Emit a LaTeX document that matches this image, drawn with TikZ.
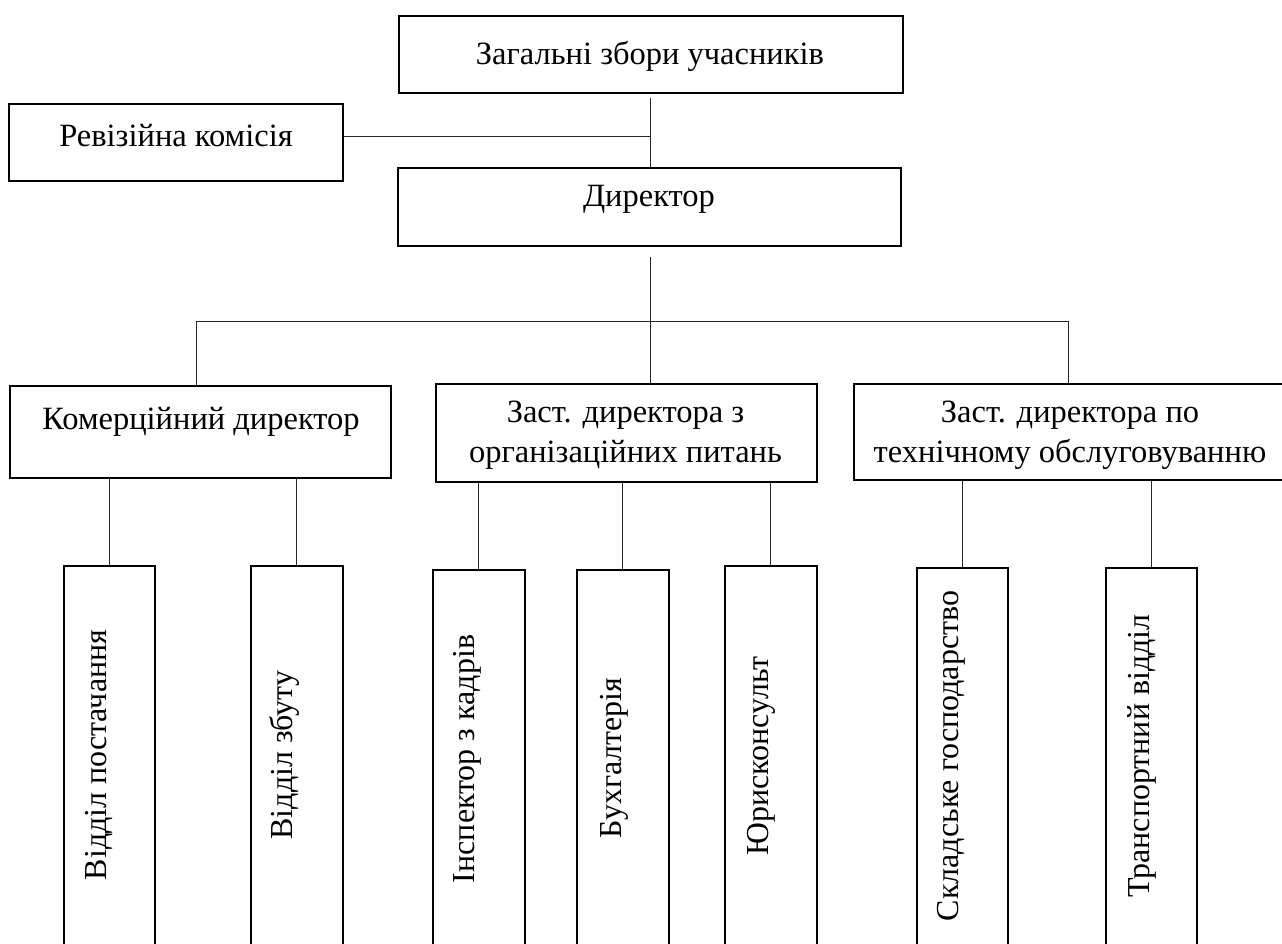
\documentclass[tikz,border=0pt]{standalone}
\usepackage{fontspec}
\setmainfont{Liberation Serif}
\begin{document}
\begin{tikzpicture}[x=1pt,y=-1pt,
  box/.style={draw=black,line width=1.8pt,rectangle,inner sep=0pt,anchor=north west},
  txt/.style={inner sep=0pt,anchor=base,font=\fontsize{32.5}{40}\selectfont},
  vtxt/.style={inner sep=0pt,anchor=base,rotate=90,font=\fontsize{32}{40}\selectfont},
  conn/.style={draw=black!85,line width=1pt}]
\useasboundingbox (0,0) rectangle (1282,944);
\clip (0,0) rectangle (1282,944);
\fill[white] (0,0) rectangle (1282,944);
% level 0
\node[box,minimum width=504pt,minimum height=77pt] (zag) at (398,15) {};
\node[txt] (tzag) at (650,65) {Загальні збори учасників};
\node[box,minimum width=334pt,minimum height=77pt] (rev) at (8,103) {};
\node[txt] (trev) at (176,147) {Ревізійна комісія};
\node[box,minimum width=503pt,minimum height=78pt] (dir) at (397,167) {};
\node[txt] (tdir) at (649,207) {Директор};
% level 1
\node[box,minimum width=381pt,minimum height=92pt] (kom) at (9,385) {};
\node[txt] (tkom) at (201,429) {Комерційний директор};
\node[box,minimum width=381pt,minimum height=98pt] (org) at (435,383) {};
\node[txt,align=center] (torg) at (625.5,462) {Заст. директора з\\організаційних питань};
\node[box,minimum width=431pt,minimum height=96pt] (teh) at (853,383) {};
\node[txt,align=center] (tteh) at (1070,462) {Заст. директора по\\технічному обслуговуванню};
% level 2
\node[box,minimum width=91pt,minimum height=400pt] (b1) at (63,565) {};
\node[box,minimum width=92pt,minimum height=400pt] (b2) at (250,565) {};
\node[box,minimum width=92pt,minimum height=400pt] (b3) at (432,569) {};
\node[box,minimum width=92pt,minimum height=400pt] (b4) at (576,569) {};
\node[box,minimum width=92pt,minimum height=400pt] (b5) at (724,565) {};
\node[box,minimum width=91pt,minimum height=400pt] (b6) at (916,567) {};
\node[box,minimum width=91pt,minimum height=400pt] (b7) at (1105,567) {};
\node[vtxt] (t1) at (106,755) {Відділ постачання};
\node[vtxt] (t2) at (292,755) {Відділ збуту};
\node[vtxt] (t3) at (474,759) {Інспектор з кадрів};
\node[vtxt] (t4) at (621,758) {Бухгалтерія};
\node[vtxt] (t5) at (768,756) {Юрисконсульт};
\node[vtxt] (t6) at (958,756) {Складське господарство};
\node[vtxt] (t7) at (1149,756) {Транспортний відділ};
% connectors
\coordinate (j1) at (650,137);
\coordinate (bar) at (650,321);
\coordinate (barL) at (196,321);
\coordinate (barR) at (1068,321);
\draw[conn] (zag.south -| j1) ++(0,4) -- (dir.north -| j1);
\draw[conn] (rev.east |- j1) -- (j1);
\draw[conn] (dir.south -| bar) ++(0,10) -- (org.north -| bar);
\draw[conn] (barL) -- (barR);
\draw[conn] (barL) -- (kom.north -| barL);
\draw[conn] (barR) -- (teh.north -| barR);
\draw[conn] (kom.south -| b1.north) -- (b1.north);
\draw[conn] (kom.south -| b2.north) -- (b2.north);
\draw[conn] (org.south -| b3.north) -- (b3.north);
\draw[conn] (org.south -| b4.north) -- (b4.north);
\draw[conn] (org.south -| b5.north) -- (b5.north);
\draw[conn] (teh.south -| b6.north) -- (b6.north);
\draw[conn] (teh.south -| b7.north) -- (b7.north);
\end{tikzpicture}
\end{document}
